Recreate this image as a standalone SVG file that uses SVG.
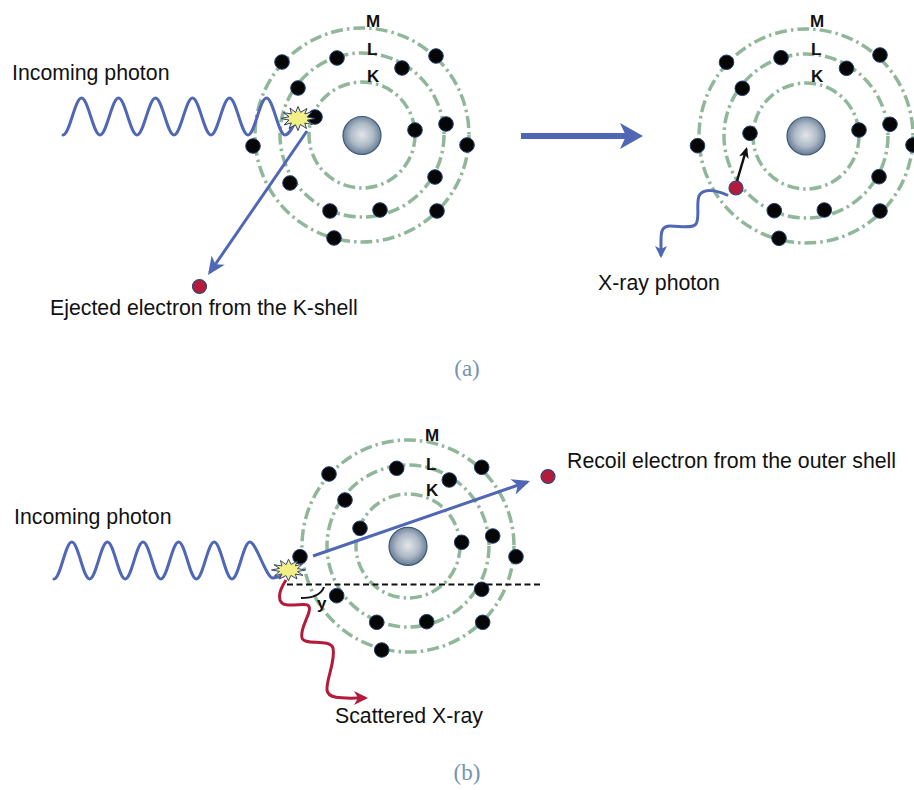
<svg xmlns="http://www.w3.org/2000/svg" xmlns:xlink="http://www.w3.org/1999/xlink" width="914" height="790" viewBox="0 0 914 790">
  <style>
    .shell { fill: none; stroke: #91b79b; stroke-width: 3.5; stroke-dasharray: 12 4 2.5 4; }
    .nuc { fill: url(#nucGrad); stroke: #3c5878; stroke-width: 1.2; }
    .el { fill: #060606; stroke: #223f70; stroke-width: 1; }
    .free { fill: #b31b3b; stroke: #2b4a7c; stroke-width: 1.2; }
    .lbl { font-family: "Liberation Sans", Arial, sans-serif; font-size: 21.3px; fill: #111; }
    .shl { font-family: "Liberation Sans", Arial, sans-serif; font-size: 17px; font-weight: bold; fill: #111; }
    .cap { font-family: "Liberation Serif", "Times New Roman", serif; font-size: 23px; fill: #7493b6; text-anchor: middle; }
    .wave { fill: none; stroke: #4f67b5; stroke-width: 3; stroke-linejoin: round; stroke-linecap: round; }
    .ray { fill: none; stroke: #4f67b5; stroke-width: 3; }
    .burst { fill: #f2ef86; stroke: #2d3f73; stroke-width: 1; stroke-linejoin: miter; }
  </style>
  <defs>
    <radialGradient id="nucGrad" cx="50%" cy="48%" r="55%">
      <stop offset="0" stop-color="#e3e6ea"/>
      <stop offset="0.55" stop-color="#adb9c6"/>
      <stop offset="1" stop-color="#5b738e"/>
    </radialGradient>
    <!-- twelve-spike burst, irregular radii -->
    <polygon id="burstShape" points="17,0 9,1.8 14.5,6 6.8,4.6 8.5,10 2.4,6 0,12 -2.6,6.2 -9,10 -6.6,4.4 -14,6.4 -9,1.6 -17,0 -9,-1.8 -14.5,-5.8 -6.6,-4.6 -8,-10.5 -2.4,-6 0,-12 2.6,-6.2 9,-10 6.8,-4.6 14,-6.6 9,-1.6"/>
    <marker id="headBlue" viewBox="-19 -9 20 18" markerWidth="20" markerHeight="18" refX="-3" refY="0" orient="auto" markerUnits="userSpaceOnUse">
      <path d="M0,0 L-18,-8 L-13,0 L-18,8 Z" fill="#4f67b5"/>
    </marker>
    <marker id="headBlueSmall" viewBox="-14 -7 15 14" markerWidth="15" markerHeight="14" refX="-3" refY="0" orient="auto" markerUnits="userSpaceOnUse">
      <path d="M0,0 L-12,-6 L-9,0 L-12,6 Z" fill="#4f67b5"/>
    </marker>
    <marker id="headRed" viewBox="-15 -8 16 16" markerWidth="16" markerHeight="16" refX="-3" refY="0" orient="auto" markerUnits="userSpaceOnUse">
      <path d="M0,0 L-14,-7 L-10,0 L-14,7 Z" fill="#b31b3b"/>
    </marker>
    <marker id="headBlack" viewBox="-12 -6 13 12" markerWidth="13" markerHeight="12" refX="-2" refY="0" orient="auto" markerUnits="userSpaceOnUse">
      <path d="M0,0 L-11,-5 L-8,0 L-11,5 Z" fill="#111"/>
    </marker>
  </defs>

  <rect width="914" height="790" fill="#ffffff"/>

  <!-- (a) atom before ionisation -->
  <g id="atom-a-before">
    <circle class="shell" cx="362" cy="135" r="53"/>
    <circle class="shell" cx="362" cy="135" r="82"/>
    <circle class="shell" cx="362" cy="135" r="107"/>
    <circle class="nuc" cx="362" cy="135.5" r="19"/>
    <text class="shl" x="366" y="27">M</text>
    <text class="shl" x="367" y="55">L</text>
    <text class="shl" x="367" y="82">K</text>
    <!-- M shell -->
    <circle class="el" cx="282" cy="62" r="7.3"/>
    <circle class="el" cx="436" cy="56" r="7.3"/>
    <circle class="el" cx="467" cy="145" r="7.3"/>
    <circle class="el" cx="253" cy="146" r="7.3"/>
    <circle class="el" cx="437" cy="211" r="7.3"/>
    <circle class="el" cx="334" cy="238" r="7.3"/>
    <!-- L shell -->
    <circle class="el" cx="337" cy="58" r="7.3"/>
    <circle class="el" cx="402" cy="68" r="7.3"/>
    <circle class="el" cx="298" cy="88" r="7.3"/>
    <circle class="el" cx="446" cy="124" r="7.3"/>
    <circle class="el" cx="290" cy="183" r="7.3"/>
    <circle class="el" cx="435" cy="177" r="7.3"/>
    <circle class="el" cx="330" cy="211" r="7.3"/>
    <circle class="el" cx="380" cy="210" r="7.3"/>
    <!-- K shell -->
    <circle class="el" cx="315" cy="117" r="7.3"/>
    <circle class="el" cx="415" cy="130" r="7.3"/>
  </g>

  <!-- (a) atom after ionisation -->
  <g id="atom-a-after">
    <circle class="shell" cx="806" cy="136" r="53"/>
    <circle class="shell" cx="806" cy="136" r="82"/>
    <circle class="shell" cx="806" cy="136" r="107"/>
    <circle class="nuc" cx="806" cy="136" r="19"/>
    <text class="shl" x="810" y="27">M</text>
    <text class="shl" x="811" y="55">L</text>
    <text class="shl" x="811" y="82">K</text>
    <circle class="el" cx="726.5" cy="62.3" r="7.3"/>
    <circle class="el" cx="880" cy="55" r="7.3"/>
    <circle class="el" cx="913" cy="145" r="7.3"/>
    <circle class="el" cx="697.5" cy="145.7" r="7.3"/>
    <circle class="el" cx="880" cy="211" r="7.3"/>
    <circle class="el" cx="779" cy="238.3" r="7.3"/>
    <circle class="el" cx="781" cy="57.7" r="7.3"/>
    <circle class="el" cx="846.5" cy="68.3" r="7.3"/>
    <circle class="el" cx="742.3" cy="88.3" r="7.3"/>
    <circle class="el" cx="890" cy="124.3" r="7.3"/>
    <circle class="el" cx="879" cy="176.7" r="7.3"/>
    <circle class="el" cx="774.3" cy="210.7" r="7.3"/>
    <circle class="el" cx="824.3" cy="210" r="7.3"/>
    <circle class="el" cx="750" cy="133.3" r="7.3"/>
    <circle class="el" cx="859" cy="130" r="7.3"/>
  </g>

  <!-- (b) atom -->
  <g id="atom-b">
    <circle class="shell" cx="408" cy="546" r="52"/>
    <circle class="shell" cx="408" cy="546" r="81"/>
    <circle class="shell" cx="408" cy="546" r="106"/>
    <circle class="nuc" cx="408" cy="546.3" r="19"/>
    <text class="shl" x="425" y="441">M</text>
    <text class="shl" x="426" y="470">L</text>
    <text class="shl" x="426" y="496">K</text>
    <circle class="el" cx="329" cy="474" r="7.3"/>
    <circle class="el" cx="481.7" cy="467.3" r="7.3"/>
    <circle class="el" cx="516" cy="556.7" r="7.3"/>
    <circle class="el" cx="300" cy="556.7" r="7.3"/>
    <circle class="el" cx="482.7" cy="622.3" r="7.3"/>
    <circle class="el" cx="381.7" cy="650" r="7.3"/>
    <circle class="el" cx="396.7" cy="468.3" r="7.3"/>
    <circle class="el" cx="449.3" cy="480" r="7.3"/>
    <circle class="el" cx="345" cy="500" r="7.3"/>
    <circle class="el" cx="492.7" cy="536" r="7.3"/>
    <circle class="el" cx="336.7" cy="595.7" r="7.3"/>
    <circle class="el" cx="481.7" cy="589.3" r="7.3"/>
    <circle class="el" cx="376.7" cy="622.3" r="7.3"/>
    <circle class="el" cx="426.7" cy="621.7" r="7.3"/>
    <circle class="el" cx="360" cy="528.3" r="7.3"/>
    <circle class="el" cx="461.7" cy="542.3" r="7.3"/>
  </g>

  <!-- waves, rays and arrows -->
  <g id="connectors">
    <!-- incoming photon (a) -->
    <path class="wave" d="M63,135 C69.7,135 74.8,98 81.5,98 S93.3,135 100,135 S111.8,98 118.5,98 S130.3,135 137,135 S148.8,98 155.5,98 S167.3,135 174,135 S185.8,98 192.5,98 S204.3,135 211,135 S222.8,98 229.5,98 S241.3,135 248,135 S259.8,98 266.5,98 S278.3,135 285,135 C289,135 292,128 296,121"/>
    <!-- ejected K-shell electron path -->
    <line class="ray" x1="307" y1="131" x2="209.7" y2="272.5" marker-end="url(#headBlue)"/>
    <!-- transition arrow between the two states -->
    <line x1="521" y1="136" x2="627" y2="136" stroke="#4f67b5" stroke-width="6"/>
    <path d="M643,136 L620,123 L626,136 L620,149 Z" fill="#4f67b5"/>
    <!-- L to K transition -->
    <line x1="737" y1="181" x2="746.4" y2="149" stroke="#111" stroke-width="2.5" marker-end="url(#headBlack)"/>
    <!-- emitted X-ray photon -->
    <path class="wave" d="M727,195 C716,190 703,188 699,196 C696,204 700,218 696,224 C692,229 680,226 670,226 C663,226 661,230 661,240 L661,255" marker-end="url(#headBlueSmall)"/>

    <!-- incoming photon (b) -->
    <path class="wave" d="M54,579 C60.5,579 65.3,542 71.8,542 S83.1,579 89.6,579 S100.9,542 107.4,542 S118.7,579 125.2,579 S136.5,542 143,542 S154.3,579 160.8,579 S172.1,542 178.6,542 S189.9,579 196.4,579 S207.7,542 214.2,542 S225.5,579 232,579 S243.3,542 249.8,542 C256.3,542 266,578 273,578 L283,576"/>
    <!-- reference direction -->
    <line x1="287" y1="584.5" x2="543" y2="584.5" stroke="#111" stroke-width="2" stroke-dasharray="6 3.5"/>
    <!-- scattering angle -->
    <path d="M301,598 Q320,598 324,587" fill="none" stroke="#111" stroke-width="2"/>
    <!-- recoil electron path -->
    <line class="ray" x1="313" y1="556" x2="527.2" y2="482" marker-end="url(#headBlue)"/>
    <!-- scattered X-ray -->
    <path d="M286,580 C278,592 276,604 288,605 C300,606 312,600 309,612 C306,622 300,630 302,638 C304,646 330,638 333,648 C336,660 326,680 327,690 C328,700 345,698 365,698" fill="none" stroke="#b31b3b" stroke-width="3" stroke-linejoin="round" marker-end="url(#headRed)"/>
  </g>

  <!-- free electrons -->
  <g id="ejected-electron"><circle class="free" cx="199.5" cy="286.5" r="7"/></g>
  <g id="transition-electron"><circle class="free" cx="736" cy="188" r="7"/></g>
  <g id="recoil-electron"><circle class="free" cx="548" cy="476.5" r="7"/></g>

  <!-- interaction points -->
  <g id="burst-a"><use xlink:href="#burstShape" href="#burstShape" class="burst" transform="translate(298,118.5)"/></g>
  <g id="burst-b"><use xlink:href="#burstShape" href="#burstShape" class="burst" transform="translate(288.5,570) scale(1,0.9)"/></g>

  <!-- labels -->
  <g id="labels">
    <text class="lbl" x="12" y="80">Incoming photon</text>
    <text class="lbl" x="50" y="315">Ejected electron from the K-shell</text>
    <text class="lbl" x="598" y="290">X-ray photon</text>
    <text class="cap" x="467" y="376">(a)</text>
    <text class="lbl" x="567" y="468">Recoil electron from the outer shell</text>
    <text class="lbl" x="14" y="524">Incoming photon</text>
    <text class="shl" x="317" y="609">y</text>
    <text class="lbl" x="335" y="723">Scattered X-ray</text>
    <text class="cap" x="467" y="780">(b)</text>
  </g>
</svg>
